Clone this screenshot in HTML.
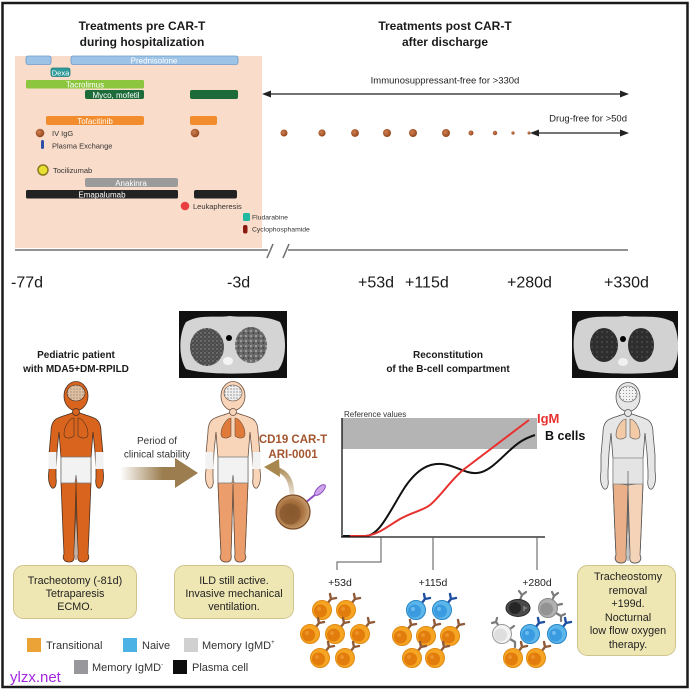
<!DOCTYPE html>
<html><head><meta charset="utf-8">
<style>
html,body{margin:0;padding:0;background:#fff;}
svg{display:block;font-family:"Liberation Sans",Arial,sans-serif;}
</style></head><body>
<svg width="692" height="691" viewBox="0 0 692 691" xmlns="http://www.w3.org/2000/svg">
<defs>
  <linearGradient id="perGrad" x1="120" y1="0" x2="198" y2="0" gradientUnits="userSpaceOnUse">
    <stop offset="0" stop-color="#9b7d4f" stop-opacity="0"/>
    <stop offset="0.55" stop-color="#9b7d4f" stop-opacity="1"/>
    <stop offset="1" stop-color="#9b7d4f"/>
  </linearGradient>
  <linearGradient id="carGrad" x1="0" y1="495" x2="0" y2="466" gradientUnits="userSpaceOnUse">
    <stop offset="0" stop-color="#a8874f" stop-opacity="0.2"/>
    <stop offset="1" stop-color="#a8874f"/>
  </linearGradient>
  <radialGradient id="dotG" cx="0.4" cy="0.4" r="0.6">
    <stop offset="0" stop-color="#d08050"/>
    <stop offset="1" stop-color="#94461e"/>
  </radialGradient>
  <radialGradient id="carCell" cx="0.45" cy="0.5" r="0.55">
    <stop offset="0" stop-color="#7e4f26"/>
    <stop offset="0.6" stop-color="#a8713f"/>
    <stop offset="1" stop-color="#caa072"/>
  </radialGradient>
  <pattern id="speck" width="4" height="4" patternUnits="userSpaceOnUse">
    <rect width="4" height="4" fill="#4a4a4a"/>
    <circle cx="1" cy="1" r="0.7" fill="#999"/>
    <circle cx="3" cy="3" r="0.6" fill="#777"/>
  </pattern>
  <pattern id="speck2" width="5" height="5" patternUnits="userSpaceOnUse">
    <rect width="5" height="5" fill="#6a6a6a"/>
    <circle cx="1" cy="1" r="0.9" fill="#bbb"/>
    <circle cx="3.5" cy="3" r="0.8" fill="#333"/>
  </pattern>
  <pattern id="speck3" width="5" height="5" patternUnits="userSpaceOnUse">
    <rect width="5" height="5" fill="#2e2e2e"/>
    <circle cx="2" cy="2" r="0.5" fill="#999"/>
  </pattern>
  <pattern id="brain1" width="3" height="3" patternUnits="userSpaceOnUse">
    <rect width="3" height="3" fill="#dcc0a2"/>
    <circle cx="1" cy="1" r="0.5" fill="#6a4a30"/>
  </pattern>
  <pattern id="brain2" width="3" height="3" patternUnits="userSpaceOnUse">
    <rect width="3" height="3" fill="#eeeeee"/>
    <circle cx="1" cy="1" r="0.6" fill="#666"/>
  </pattern>
  <pattern id="brain3" width="3" height="3" patternUnits="userSpaceOnUse">
    <rect width="3" height="3" fill="#f2f2f2"/>
    <circle cx="1.5" cy="1.5" r="0.5" fill="#777"/>
  </pattern>

  <g id="cellO">
    <path d="M5,-6 L9,-11 M9,-11 L8,-16 M9,-11 L14,-12" stroke="#8e5a38" stroke-width="2.4" fill="none" stroke-linecap="round"/>
    <circle r="9.5" fill="#f5a522" stroke="#e08a14" stroke-width="1"/>
    <circle cx="-1.5" cy="1" r="6.5" fill="#e27c0c"/>
    <circle cx="-3" cy="-1" r="2" fill="#f3a13c" opacity="0.6"/>
  </g>
  <g id="cellB">
    <path d="M5,-6 L9,-11 M9,-11 L8,-16 M9,-11 L14,-12" stroke="#1f4fa0" stroke-width="2.4" fill="none" stroke-linecap="round"/>
    <circle r="9.5" fill="#5cb6ea" stroke="#2585c8" stroke-width="1"/>
    <circle cx="-1.5" cy="1" r="6.5" fill="#3a9be0"/>
    <circle cx="-3" cy="-1" r="2" fill="#8fd0f5" opacity="0.6"/>
  </g>
  <g id="cellG">
    <path d="M4,-7 L6,-12 M6,-12 L4,-16 M6,-12 L10,-15 M8,5 L13,8 M13,8 L13,13 M13,8 L17,6 M9,-3 L14,-4" stroke="#7a7a7a" stroke-width="2.2" fill="none" stroke-linecap="round"/>
    <circle r="9.5" fill="#b0b0b0" stroke="#888" stroke-width="1"/>
    <circle cx="-1.5" cy="1" r="6.5" fill="#939393"/>
  </g>
  <g id="cellW">
    <path d="M-3,-8 L-6,-12 M-6,-12 L-10,-11 M-6,-12 L-5,-16 M8,-5 L12,-8 M8,5 L13,8 M13,8 L13,13" stroke="#7a7a7a" stroke-width="2.2" fill="none" stroke-linecap="round"/>
    <circle r="9.5" fill="#f2f2f2" stroke="#999" stroke-width="1"/>
    <circle cx="-1.5" cy="1" r="6.5" fill="#dedede"/>
  </g>
  <g id="cellP">
    <path d="M2,-8 L4,-13 M4,-13 L1,-17 M4,-13 L8,-16" stroke="#7a7a7a" stroke-width="2.2" fill="none" stroke-linecap="round"/>
    <ellipse rx="12" ry="8.5" fill="#4a4a4a" stroke="#2a2a2a" stroke-width="1"/>
    <circle cx="-3" cy="0" r="6" fill="#262626"/>
    <path d="M6,-2 L6,3 M6,0 L9,0" stroke="#999" stroke-width="1"/>
  </g>
</defs>

<rect x="2.5" y="3" width="685" height="684" fill="#fff" stroke="#1a1a1a" stroke-width="2.5"/>

<g font-weight="bold" font-size="12" fill="#1a1a1a" text-anchor="middle">
  <text x="142" y="30">Treatments pre CAR-T</text>
  <text x="142" y="46">during hospitalization</text>
  <text x="445" y="30">Treatments post CAR-T</text>
  <text x="445" y="46">after discharge</text>
</g>

<rect x="15" y="56" width="247" height="192" fill="#fadcca"/>

<g stroke-width="0.8">
  <rect x="26" y="56" width="25" height="8.5" rx="2" fill="#9dc3e6" stroke="#6e9ccb"/>
  <rect x="71" y="56" width="167" height="8.5" rx="2" fill="#9dc3e6" stroke="#6e9ccb"/>
  <rect x="51" y="68" width="19" height="8.5" rx="2" fill="#2f9b9b" stroke="#1e7a7a"/>
  <rect x="26" y="80" width="118" height="8.5" rx="1.5" fill="#8cc63f"/>
  <rect x="85" y="90" width="59" height="9" rx="2" fill="#1d6b39"/>
  <rect x="190" y="90" width="48" height="9" rx="2" fill="#1d6b39"/>
  <rect x="46" y="116" width="98" height="9" rx="2" fill="#f28c2c"/>
  <rect x="190" y="116" width="27" height="9" rx="2" fill="#f28c2c"/>
  <rect x="85" y="178" width="93" height="9" rx="2" fill="#9b9b9b"/>
  <rect x="26" y="190" width="152" height="8.5" rx="1.5" fill="#222"/>
  <rect x="194" y="190" width="43" height="8.5" rx="2" fill="#222"/>
</g>
<g font-size="8" fill="#fff" text-anchor="middle">
  <text x="154" y="63.3">Prednisolone</text>
  <text x="60.5" y="75.3" font-size="7.5">Dexa</text>
  <text x="85" y="87.3">Tacrolimus</text>
  <text x="116" y="97.8">Myco, mofetil</text>
  <text x="95" y="123.8">Tofacitinib</text>
  <text x="131" y="185.8">Anakinra</text>
  <text x="102" y="197.3">Emapalumab</text>
</g>

<circle cx="40" cy="133" r="4.3" fill="url(#dotG)"/>
<circle cx="195" cy="133" r="4.3" fill="url(#dotG)"/>
<rect x="41" y="140" width="3" height="9" rx="1.5" fill="#2c4fa8"/>
<circle cx="43" cy="170" r="5" fill="#e8e030" stroke="#8a7a20" stroke-width="1.5"/>
<circle cx="185" cy="206" r="4.3" fill="#e84040"/>
<rect x="243" y="213" width="7" height="8" rx="1.5" fill="#1fb8a0"/>
<rect x="243" y="225" width="4.5" height="8.5" rx="2" fill="#8a1a10"/>
<g font-size="7.5" fill="#333">
  <text x="52" y="136">IV IgG</text>
  <text x="52" y="148.5">Plasma Exchange</text>
  <text x="53" y="173">Tocilizumab</text>
  <text x="193" y="209">Leukapheresis</text>
  <text x="252" y="219.5" font-size="6.8">Fludarabine</text>
  <text x="252" y="231.5" font-size="6.8">Cyclophosphamide</text>
</g>

<g stroke="#222" stroke-width="1.2">
  <line x1="268" y1="94" x2="622" y2="94"/>
  <line x1="536" y1="133" x2="622" y2="133"/>
</g>
<polygon points="262,94 271,90.5 271,97.5" fill="#222"/>
<polygon points="629,94 620,90.5 620,97.5" fill="#222"/>
<polygon points="530,133 539,129.5 539,136.5" fill="#222"/>
<polygon points="629,133 620,129.5 620,136.5" fill="#222"/>
<text x="445" y="83.5" font-size="9.5" fill="#222" text-anchor="middle">Immunosuppressant-free for &gt;330d</text>
<text x="627" y="121.5" font-size="9.5" fill="#222" text-anchor="end">Drug-free for &gt;50d</text>
<g fill="url(#dotG)">
  <circle cx="284" cy="133" r="3.5"/>
  <circle cx="322" cy="133" r="3.6"/>
  <circle cx="355" cy="133" r="3.9"/>
  <circle cx="387" cy="133" r="4"/>
  <circle cx="413" cy="133" r="4"/>
  <circle cx="446" cy="133" r="4"/>
  <circle cx="471" cy="133" r="2.5"/>
  <circle cx="495" cy="133" r="2.2"/>
  <circle cx="513" cy="133" r="1.6"/>
  <circle cx="529" cy="133" r="1.5"/>
</g>

<g stroke="#6e6e6e" stroke-width="1.5" fill="none">
  <line x1="15" y1="250" x2="268" y2="250"/>
  <line x1="288" y1="250" x2="628" y2="250"/>
  <line x1="267" y1="258" x2="273" y2="244"/>
  <line x1="283" y1="258" x2="289" y2="244"/>
</g>
<g font-size="16" fill="#1a1a1a">
  <text x="11" y="287.5">-77d</text>
  <text x="227" y="287.5">-3d</text>
  <text x="358" y="287.5">+53d</text>
  <text x="405" y="287.5">+115d</text>
  <text x="507" y="287.5">+280d</text>
  <text x="604" y="287.5">+330d</text>
</g>

<g>
  <rect x="179" y="311" width="108" height="67" fill="#111"/>
  <path d="M186,322 C200,314 215,318 230,316 C245,318 262,314 280,322 C287,335 287,360 278,370 C255,375 205,375 186,369 C178,357 179,333 186,322 Z" fill="#d4d4d4"/>
  <ellipse cx="207" cy="347" rx="17" ry="19" fill="url(#speck)"/>
  <ellipse cx="251" cy="345" rx="16" ry="18" fill="url(#speck2)"/>
  <circle cx="229" cy="338" r="3" fill="#000"/>
  <ellipse cx="228" cy="361" rx="5" ry="4" fill="#f4f4f4"/>
</g>
<g>
  <rect x="572" y="311" width="106" height="67" fill="#111"/>
  <path d="M578,322 C592,314 610,318 625,316 C640,318 658,314 673,322 C680,335 680,360 672,370 C650,375 600,375 579,369 C572,357 572,333 578,322 Z" fill="#d2d2d2"/>
  <ellipse cx="604" cy="345" rx="14" ry="17" fill="url(#speck3)"/>
  <ellipse cx="641" cy="345" rx="13" ry="17" fill="url(#speck3)"/>
  <circle cx="623" cy="339" r="3" fill="#000"/>
  <ellipse cx="623" cy="362" rx="5" ry="4" fill="#f0f0f0"/>
</g>

<g font-weight="bold" font-size="10" fill="#1a1a1a" text-anchor="middle">
  <text x="76" y="358">Pediatric patient</text>
  <text x="76" y="372">with MDA5+DM-RPILD</text>
  <text x="448" y="358">Reconstitution</text>
  <text x="448" y="372">of the B-cell compartment</text>
</g>

<g transform="translate(76,382)" stroke="#4a3020" stroke-width="0.8">
  <path d="M -4,31 C -9,33 -14,34 -18,36 C -23,38 -25,43 -25,50 L -27,72 L -27,88 C -28,95 -28,102 -24,106 C -21,107 -19,103 -20,96 L -20,88 L -19,70 L -17,50 L -15,76 L -15,100 L -13,150 L -12,172 C -14,176 -12,180 -7,180 C -3,180 -1,178 -2,172 L -1,140 L 0,102 L 1,140 L 2,172 C 1,178 3,180 7,180 C 12,180 14,176 12,172 L 13,150 L 15,100 L 15,76 L 17,50 L 19,70 L 20,88 L 20,96 C 19,103 21,107 24,106 C 28,102 28,95 27,88 L 27,72 L 25,50 C 25,43 23,38 18,36 C 14,34 9,33 4,31 Z" fill="#d8641e"/>
  <ellipse cx="0" cy="14" rx="12" ry="14.5" fill="#d8641e"/>
  <ellipse cx="0" cy="11" rx="9" ry="8" fill="url(#brain1)" stroke-width="0.6"/>
  <circle cx="0" cy="30" r="3.5" fill="#d8641e"/>
  <path d="M -2,36 C -6,36 -12,44 -12,52 C -12,57 -6,57 -2,54 Z M 2,36 C 6,36 12,44 12,52 C 12,57 6,57 2,54 Z" fill="#d8641e" stroke-width="0.6"/>
  <path d="M -15,75 L 15,75 L 15,101 L 1,101 L 0,93 L -1,101 L -15,101 Z" fill="#f2f2f2" stroke="#777"/>
  <rect x="-27.5" y="70" width="8" height="17" fill="#f2f2f2" stroke="none"/>
  <rect x="19.5" y="70" width="8" height="17" fill="#f2f2f2" stroke="none"/>
  <line x1="0" y1="101" x2="0" y2="178" stroke="#6a3a18"/>
</g>

<g transform="translate(233,382)" stroke="#6a5040" stroke-width="0.8">
  <path d="M -4,31 C -9,33 -14,34 -18,36 C -23,38 -25,43 -25,50 L -27,72 L -27,88 C -28,95 -28,102 -24,106 C -21,107 -19,103 -20,96 L -20,88 L -19,70 L -17,50 L -15,76 L -15,100 L -13,150 L -12,172 C -14,176 -12,180 -7,180 C -3,180 -1,178 -2,172 L -1,140 L 0,102 L 1,140 L 2,172 C 1,178 3,180 7,180 C 12,180 14,176 12,172 L 13,150 L 15,100 L 15,76 L 17,50 L 19,70 L 20,88 L 20,96 C 19,103 21,107 24,106 C 28,102 28,95 27,88 L 27,72 L 25,50 C 25,43 23,38 18,36 C 14,34 9,33 4,31 Z" fill="#f8d5b8"/>
  <path d="M -15,100 L -13,150 L -12,172 C -14,176 -12,180 -7,180 C -3,180 -1,178 -2,172 L -1,140 L 0,102 L 1,140 L 2,172 C 1,178 3,180 7,180 C 12,180 14,176 12,172 L 13,150 L 15,100 Z" fill="#eb9e6b"/>
  <ellipse cx="0" cy="14" rx="12" ry="14.5" fill="#f8d5b8"/>
  <ellipse cx="0" cy="11" rx="9" ry="8" fill="url(#brain2)" stroke-width="0.6"/>
  <circle cx="0" cy="30" r="3.5" fill="#f8d5b8"/>
  <path d="M -2,36 C -6,36 -12,44 -12,52 C -12,57 -6,57 -2,54 Z M 2,36 C 6,36 12,44 12,52 C 12,57 6,57 2,54 Z" fill="#e07a3a" stroke-width="0.6"/>
  <path d="M -15,75 L 15,75 L 15,101 L 1,101 L 0,93 L -1,101 L -15,101 Z" fill="#f2f2f2" stroke="#777"/>
  <rect x="-27.5" y="70" width="8" height="17" fill="#f2f2f2" stroke="none"/>
  <rect x="19.5" y="70" width="8" height="17" fill="#f2f2f2" stroke="none"/>
</g>

<g transform="translate(628,383)" stroke="#555" stroke-width="0.8">
  <path d="M -4,31 C -9,33 -14,34 -18,36 C -23,38 -25,43 -25,50 L -27,72 L -27,88 C -28,95 -28,102 -24,106 C -21,107 -19,103 -20,96 L -20,88 L -19,70 L -17,50 L -15,76 L -15,100 L -13,150 L -12,172 C -14,176 -12,180 -7,180 C -3,180 -1,178 -2,172 L -1,140 L 0,102 L 1,140 L 2,172 C 1,178 3,180 7,180 C 12,180 14,176 12,172 L 13,150 L 15,100 L 15,76 L 17,50 L 19,70 L 20,88 L 20,96 C 19,103 21,107 24,106 C 28,102 28,95 27,88 L 27,72 L 25,50 C 25,43 23,38 18,36 C 14,34 9,33 4,31 Z" fill="#e6e6e6"/>
  <path d="M -15,100 L -13,150 L -12,172 C -14,176 -12,180 -7,180 C -3,180 -1,178 -2,172 L -1,140 L 0,102 Z" fill="#eab089"/>
  <path d="M 15,100 L 13,150 L 12,172 C 14,176 12,180 7,180 C 3,180 1,178 2,172 L 1,140 L 0,102 Z" fill="#f5d3b8"/>
  <ellipse cx="0" cy="14" rx="12" ry="14.5" fill="#e6e6e6"/>
  <ellipse cx="0" cy="11" rx="9" ry="8" fill="url(#brain3)" stroke-width="0.6"/>
  <circle cx="0" cy="30" r="3.5" fill="#e6e6e6"/>
  <path d="M -2,36 C -6,36 -12,44 -12,52 C -12,57 -6,57 -2,54 Z M 2,36 C 6,36 12,44 12,52 C 12,57 6,57 2,54 Z" fill="#f3caa6" stroke-width="0.6"/>
  <path d="M -15,75 L 15,75 L 15,101 L -15,101 Z" fill="#e4e4e4" stroke="#888"/>
  <line x1="0" y1="88" x2="0" y2="178" stroke="#666"/>
</g>

<text x="157" y="444" font-size="10" fill="#333" text-anchor="middle">Period of</text>
<text x="157" y="457.5" font-size="10" fill="#333" text-anchor="middle">clinical stability</text>
<path d="M120,467 L175,467 L175,458 L198,473 L175,488 L175,480 L120,480 Z" fill="url(#perGrad)"/>

<g font-weight="bold" font-size="11.5" fill="#a2552e" text-anchor="middle">
  <text x="293" y="443">CD19 CAR-T</text>
  <text x="293" y="458">ARI-0001</text>
</g>
<path d="M292,496 C292,482 288,473 276,469" stroke="url(#carGrad)" stroke-width="5" fill="none"/>
<polygon points="264,467 279,459 280,477" fill="#a8874f"/>
<line x1="305" y1="503" x2="316" y2="494" stroke="#8c4fc0" stroke-width="2"/>
<ellipse cx="320" cy="490" rx="7" ry="3" transform="rotate(-45 320 490)" fill="#cda4ea" stroke="#8c4fc0" stroke-width="1"/>
<circle cx="293" cy="512" r="17" fill="url(#carCell)" stroke="#7a4a25" stroke-width="1.2"/>
<circle cx="290" cy="514" r="10.5" fill="#8a5a30" opacity="0.8"/>

<text x="344" y="417" font-size="8" fill="#333">Reference values</text>
<rect x="342" y="418" width="195" height="31" fill="#b4b4b4"/>
<path d="M343,536 L365,536 C380,536 390,510 405,487 C418,468 430,463 442,464 C455,465 465,474 477,473 C492,472 505,452 520,442 C526,438 532,436 535,435" stroke="#111" stroke-width="2" fill="none"/>
<path d="M350,536 L365,536 C378,535 388,526 400,519 C412,512 422,511 430,505 C440,497 450,481 463,470 L529,420" stroke="#e8312f" stroke-width="2" fill="none"/>
<g stroke="#111" stroke-width="1.3" fill="none">
  <line x1="342" y1="418" x2="342" y2="537"/>
  <line x1="341" y1="537" x2="545" y2="537"/>
</g>
<g stroke="#555" stroke-width="1" fill="none">
  <polyline points="381,537 381,562 337,562 337,570"/>
  <line x1="433" y1="537" x2="433" y2="570"/>
  <line x1="537" y1="537" x2="537" y2="570"/>
</g>
<text x="537" y="423" font-size="13" font-weight="bold" fill="#e8312f">IgM</text>
<text x="545" y="440" font-size="12.5" font-weight="bold" fill="#111">B cells</text>

<g font-size="10.5" fill="#222" text-anchor="middle">
  <text x="340" y="586">+53d</text>
  <text x="433" y="586">+115d</text>
  <text x="537" y="586">+280d</text>
</g>

<use href="#cellO" x="322" y="610"/>
<use href="#cellO" x="346" y="610"/>
<use href="#cellO" x="310" y="634"/>
<use href="#cellO" x="335" y="634"/>
<use href="#cellO" x="360" y="634"/>
<use href="#cellO" x="320" y="658"/>
<use href="#cellO" x="345" y="658"/>
<use href="#cellB" x="416" y="610"/>
<use href="#cellB" x="442" y="610"/>
<use href="#cellO" x="402" y="636"/>
<use href="#cellO" x="426" y="636"/>
<use href="#cellO" x="450" y="636"/>
<use href="#cellO" x="412" y="658"/>
<use href="#cellO" x="435" y="658"/>
<use href="#cellP" x="518" y="608"/>
<use href="#cellG" x="548" y="608"/>
<use href="#cellW" x="502" y="634"/>
<use href="#cellB" x="530" y="634"/>
<use href="#cellB" x="557" y="634"/>
<use href="#cellO" x="513" y="658"/>
<use href="#cellO" x="536" y="658"/>

<g fill="#efe7b3" stroke="#cfc48e" stroke-width="1">
  <rect x="13.5" y="565.5" width="123" height="53" rx="10"/>
  <rect x="174.5" y="565.5" width="119" height="53" rx="10"/>
  <rect x="577.5" y="565.5" width="98" height="90" rx="10"/>
</g>
<g font-size="10.8" fill="#222" text-anchor="middle">
  <text x="75" y="584">Tracheotomy (-81d)</text>
  <text x="75" y="597">Tetraparesis</text>
  <text x="75" y="610">ECMO.</text>
  <text x="234" y="584">ILD still active.</text>
  <text x="234" y="597">Invasive mechanical</text>
  <text x="234" y="610">ventilation.</text>
  <text x="628" y="580">Tracheostomy</text>
  <text x="628" y="594">removal</text>
  <text x="628" y="607">+199d.</text>
  <text x="628" y="621">Nocturnal</text>
  <text x="628" y="634">low flow oxygen</text>
  <text x="628" y="648">therapy.</text>
</g>

<rect x="27" y="638" width="14" height="14" fill="#eba237"/>
<rect x="123" y="638" width="14" height="14" fill="#4ab2e4"/>
<rect x="184" y="638" width="14" height="14" fill="#d0d0d0"/>
<rect x="74" y="660" width="14" height="14" fill="#98989c"/>
<rect x="173" y="660" width="14" height="14" fill="#0d0d0d"/>
<g font-size="11" fill="#333">
  <text x="46" y="649">Transitional</text>
  <text x="142" y="649">Naive</text>
  <text x="202" y="649">Memory IgMD<tspan font-size="6" dy="-5">+</tspan></text>
  <text x="92" y="671">Memory IgMD<tspan font-size="6" dy="-5">-</tspan></text>
  <text x="192" y="671">Plasma cell</text>
</g>
<text x="10" y="682" font-size="15" fill="#a228e0">ylzx.net</text>
</svg>
</body></html>
